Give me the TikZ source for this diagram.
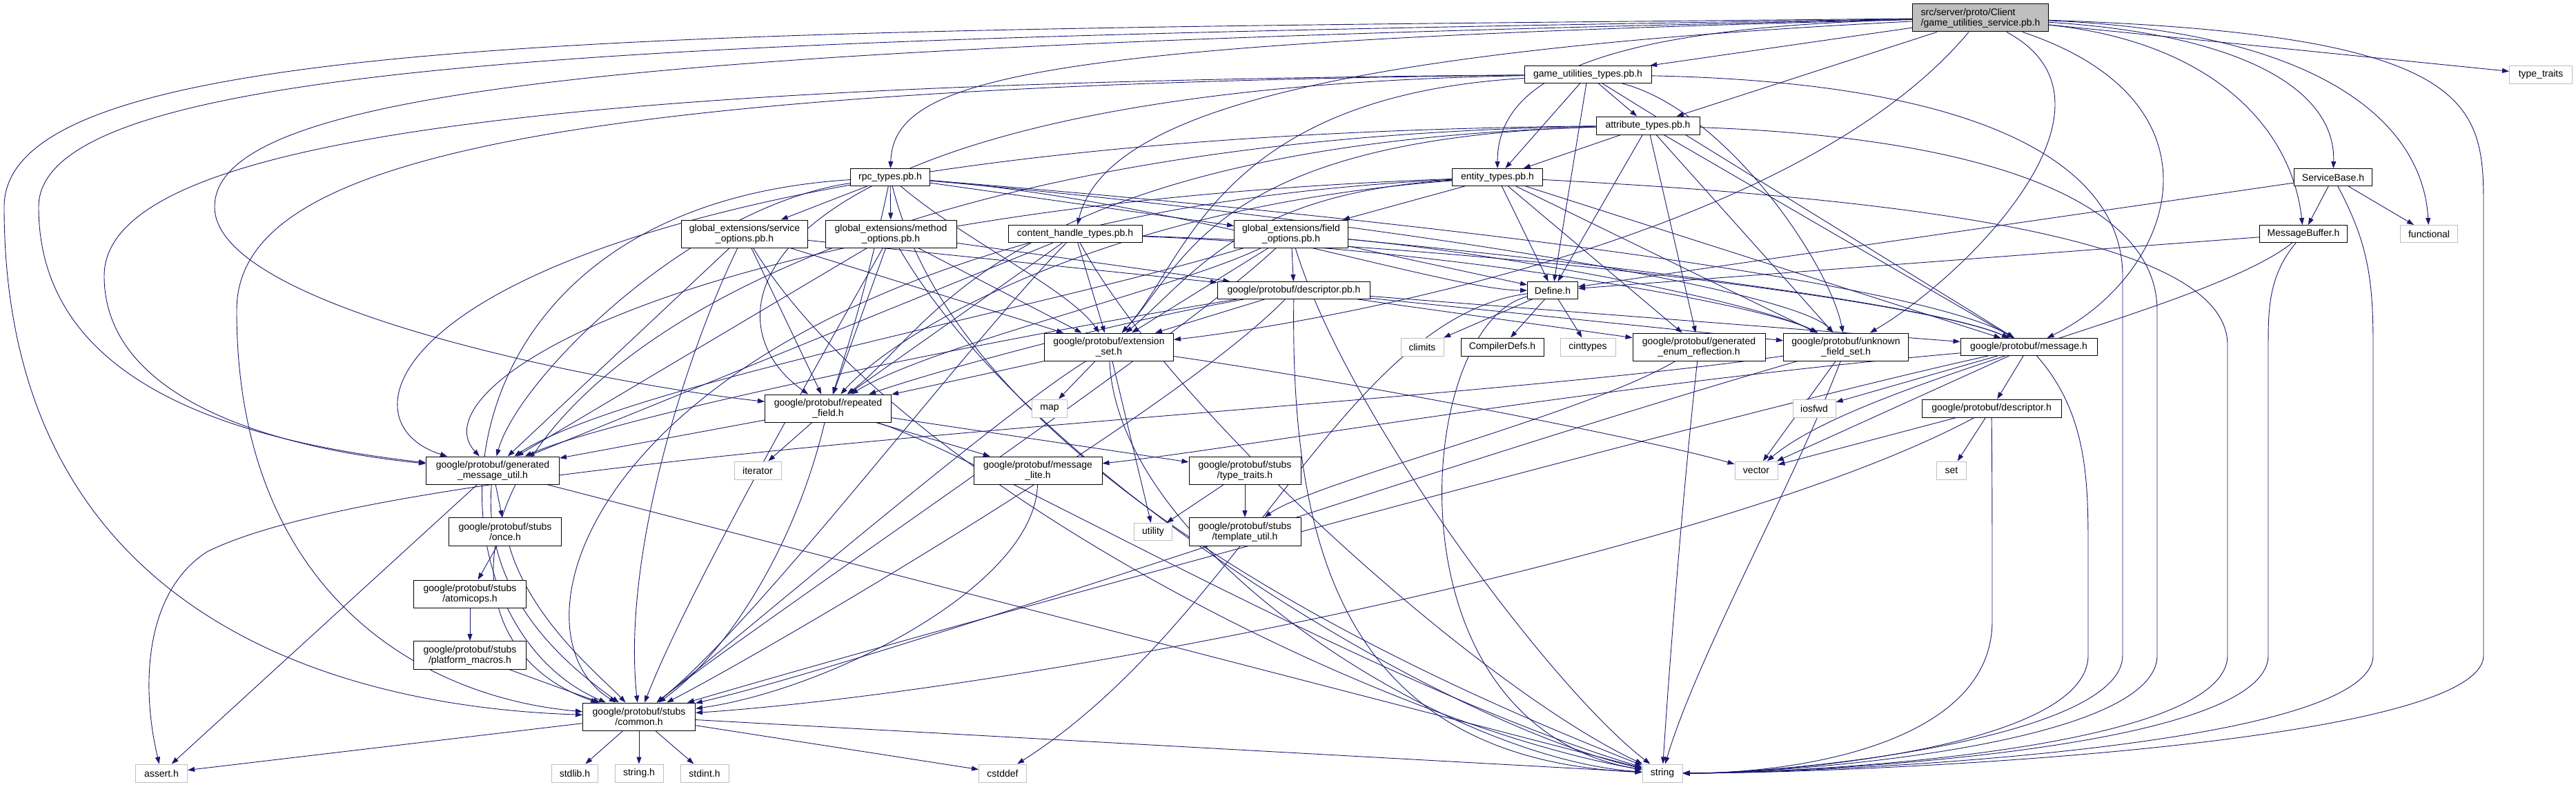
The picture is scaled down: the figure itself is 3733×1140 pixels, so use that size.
\documentclass[tikz,border=0pt]{standalone}
\usepackage{fontspec}
\setmainfont{Liberation Sans}
\usetikzlibrary{arrows.meta,backgrounds}
\definecolor{edgec}{HTML}{191970}
\definecolor{extc}{HTML}{BFBFBF}
\newcommand\mkn[7]{\node[#6, minimum width=#4pt, minimum height=#5pt] (#1) at (#2,#3) {#7};}
\newcommand\edS[2]{\draw[e] (#1) -- (#2);}
\newcommand\edC[4]{\draw[e] (#1) .. controls (#2) and (#3) .. (#4);}
\begin{document}
\begin{tikzpicture}[x=1pt,y=-1pt,
 e/.style={draw=edgec, line width=0.9pt, -{Triangle[length=10pt,width=7pt]}},
 nd/.style={draw=black, fill=white, line width=1pt, inner sep=0pt, align=center, font=\fontsize{14}{15}\selectfont},
 ext/.style={nd, draw=extc},
 rt/.style={nd, fill=extc, align=left}]
\useasboundingbox (0,0) rectangle (3733,1140);
% nodes
\mkn{R}{2870}{26}{197}{40}{rt}{src/server/proto/Client\\/game\_utilities\_service.pb.h}
\mkn{tt}{3682}{108}{91}{26}{ext}{type\_traits}
\mkn{gut}{2301}{108}{184}{25}{nd}{game\_utilities\_types.pb.h}
\mkn{atyp}{2388}{182}{150}{26}{nd}{attribute\_types.pb.h}
\mkn{rpc}{1290}{257}{115}{25}{nd}{rpc\_types.pb.h}
\mkn{et}{2170}{257}{131}{25}{nd}{entity\_types.pb.h}
\mkn{sb}{3381}{257}{113}{25}{nd}{ServiceBase.h}
\mkn{so}{1079}{339}{183}{40}{nd}{global\_extensions/service\\\_options.pb.h}
\mkn{mo}{1291}{339}{190}{40}{nd}{global\_extensions/method\\\_options.pb.h}
\mkn{cht}{1558}{339}{194}{25}{nd}{content\_handle\_types.pb.h}
\mkn{fo}{1871}{339}{165}{40}{nd}{global\_extensions/field\\\_options.pb.h}
\mkn{mb}{3338}{339}{127}{25}{nd}{MessageBuffer.h}
\mkn{fn}{3520}{339}{83}{25}{ext}{functional}
\mkn{dpb}{1875}{421}{221}{25}{nd}{google/protobuf/descriptor.pb.h}
\mkn{def}{2250}{421}{73}{25}{nd}{Define.h}
\mkn{es}{1607}{503}{187}{40}{nd}{google/protobuf/extension\\\_set.h}
\mkn{cl}{2061}{503}{62}{26}{ext}{climits}
\mkn{cd}{2177}{503}{120}{26}{nd}{CompilerDefs.h}
\mkn{ci}{2301}{503}{80}{26}{ext}{cinttypes}
\mkn{ger}{2462}{503}{192}{40}{nd}{google/protobuf/generated\\\_enum\_reflection.h}
\mkn{ufs}{2675}{503}{181}{40}{nd}{google/protobuf/unknown\\\_field\_set.h}
\mkn{msg}{2940}{503}{198}{25}{nd}{google/protobuf/message.h}
\mkn{rf}{1200}{592}{183}{40}{nd}{google/protobuf/repeated\\\_field.h}
\mkn{mapn}{1521}{592}{51}{26}{ext}{map}
\mkn{io}{2629}{592}{62}{26}{ext}{iosfwd}
\mkn{dh}{2886}{592}{202}{26}{nd}{google/protobuf/descriptor.h}
\mkn{gmu}{714}{682}{193}{40}{nd}{google/protobuf/generated\\\_message\_util.h}
\mkn{iter}{1098}{682}{68}{26}{ext}{iterator}
\mkn{ml}{1504}{682}{186}{40}{nd}{google/protobuf/message\\\_lite.h}
\mkn{stt}{1804}{682}{162}{40}{nd}{google/protobuf/stubs\\/type\_traits.h}
\mkn{vec}{2545}{682}{62}{26}{ext}{vector}
\mkn{setn}{2828}{682}{43}{26}{ext}{set}
\mkn{once}{732}{771}{163}{41}{nd}{google/protobuf/stubs\\/once.h}
\mkn{util}{1671}{771}{55}{25}{ext}{utility}
\mkn{tu}{1804}{771}{162}{41}{nd}{google/protobuf/stubs\\/template\_util.h}
\mkn{atom}{681}{861}{163}{40}{nd}{google/protobuf/stubs\\/atomicops.h}
\mkn{pm}{681}{950}{163}{41}{nd}{google/protobuf/stubs\\/platform\_macros.h}
\mkn{com}{926}{1039}{163}{40}{nd}{google/protobuf/stubs\\/common.h}
\mkn{ast}{234}{1121}{75}{26}{ext}{assert.h}
\mkn{stdl}{833}{1121}{67}{26}{ext}{stdlib.h}
\mkn{strh}{926}{1121}{70}{26}{ext}{string.h}
\mkn{stdi}{1021}{1121}{70}{26}{ext}{stdint.h}
\mkn{csd}{1453}{1121}{69}{26}{ext}{cstddef}
\mkn{str}{2409}{1121}{58}{26}{ext}{string}
\begin{pgfonlayer}{background}
% root
\edS{R}{gut}
\edS{R}{atyp}
\edC{R}{2300,40}{2170,120}{et}
\edC{R}{1500,60}{1295,110}{rpc}
\edC{R}{1900,75}{1600,170}{cht}
\edS{R}{tt}
\edC{R}{3250,50}{3385,130}{sb}
\edC{R}{3200,60}{3320,180}{mb}
\edC{R}{3350,45}{3510,170}{fn}
\draw[e] (R) .. controls (3590,50) and (3599,150) .. (3599,300) -- (3599,950) .. controls (3599,1080) and (2700,1121) .. (str);
\draw[e] (R) .. controls (1000,45) and (6,40) .. (6,300) .. controls (6,900) and (500,1025) .. (com);
\draw[e] (R) .. controls (1000,55) and (56,80) .. (56,300) .. controls (56,560) and (350,640) .. (gmu);
\draw[e] (R) .. controls (1000,65) and (311,120) .. (311,300) .. controls (311,450) and (900,560) .. (rf);
\edC{R}{2600,350}{1900,470}{es}
\edC{R}{3240,150}{3150,400}{msg}
\edC{R}{3100,150}{2850,400}{ufs}
% game_utilities_types
\edS{gut}{atyp}
\edS{gut}{et}
\edS{gut}{def}
\edS{gut}{msg}
\edC{gut}{2500,160}{2650,380}{ufs}
\draw[e] (gut) .. controls (2900,120) and (3076,250) .. (3076,400) -- (3076,950) .. controls (3076,1070) and (2600,1121) .. (str);
\edC{gut}{1760,140}{1720,380}{es}
\edC{gut}{1100,130}{1000,450}{rf}
\draw[e] (gut) .. controls (800,120) and (151,200) .. (151,400) .. controls (151,580) and (400,650) .. (gmu);
\draw[e] (gut) .. controls (700,125) and (343,250) .. (343,450) .. controls (343,850) and (600,1010) .. (com);
% attribute_types
\edS{atyp}{et}
\edS{atyp}{def}
\edS{atyp}{msg}
\edS{atyp}{ufs}
\edS{atyp}{ger}
\draw[e] (atyp) .. controls (2900,200) and (3126,300) .. (3126,450) -- (3126,950) .. controls (3126,1080) and (2600,1121) .. (str);
\edC{atyp}{1760,200}{1720,380}{es}
\edC{atyp}{1450,210}{1350,480}{rf}
\edC{atyp}{600,200}{450,600}{gmu}
\edC{atyp}{700,210}{520,900}{com}
% entity_types
\edS{et}{fo}
\edS{et}{def}
\edS{et}{msg}
\edS{et}{ufs}
\edS{et}{ger}
\draw[e] (et) .. controls (2800,290) and (3228,350) .. (3228,500) -- (3228,950) .. controls (3228,1090) and (2600,1121) .. (str);
\edC{et}{1800,280}{1730,400}{es}
\edC{et}{1600,300}{1300,480}{rf}
\edC{et}{1000,300}{600,560}{gmu}
\edC{et}{900,320}{700,900}{com}
% rpc_types
\edS{rpc}{so}
\edS{rpc}{mo}
\edS{rpc}{fo}
\edC{rpc}{1700,290}{2100,421}{def}
\edC{rpc}{2200,330}{2800,420}{msg}
\edC{rpc}{2000,320}{2600,420}{ufs}
\edC{rpc}{1400,350}{1550,420}{es}
\edC{rpc}{1260,400}{1230,500}{rf}
\edC{rpc}{1000,300}{750,550}{gmu}
\edC{rpc}{600,300}{600,900}{com}
\edC{rpc}{1400,700}{2100,1000}{str}
% service options
\edS{so}{dpb}
\edS{so}{es}
\edS{so}{rf}
\edS{so}{gmu}
\edC{so}{1000,500}{900,800}{com}
\edC{so}{1300,700}{2000,1050}{str}
% method options
\edS{mo}{dpb}
\edS{mo}{es}
\edS{mo}{rf}
\edS{mo}{gmu}
\edC{mo}{1200,500}{1000,850}{com}
\edC{mo}{1500,700}{2100,1050}{str}
% field options
\edS{fo}{dpb}
\edS{fo}{def}
\edS{fo}{es}
\edC{fo}{1700,420}{1350,500}{rf}
\edC{fo}{1500,450}{900,560}{gmu}
\edC{fo}{1700,500}{1100,900}{com}
\edC{fo}{1950,600}{2250,1000}{str}
\edC{fo}{2300,380}{2800,440}{msg}
\edC{fo}{2200,370}{2550,440}{ufs}
% content_handle_types
\edC{cht}{2200,360}{2800,440}{msg}
\edC{cht}{2100,360}{2550,440}{ufs}
\edS{cht}{es}
\edS{cht}{rf}
\edS{cht}{gmu}
\edC{cht}{1400,500}{1100,900}{com}
\edC{cht}{1700,600}{2150,1000}{str}
% descriptor.pb.h
\edS{dpb}{es}
\edC{dpb}{1600,470}{1350,540}{rf}
\edC{dpb}{1500,480}{900,600}{gmu}
\edC{dpb}{1700,600}{1100,950}{com}
\edC{dpb}{1870,800}{1950,1100}{str}
\edS{dpb}{msg}
\edS{dpb}{ufs}
\edS{dpb}{ger}
% Define.h
\edS{def}{cl}
\edS{def}{cd}
\edS{def}{ci}
\edC{def}{1950,460}{1800,900}{csd}
\edC{def}{2050,470}{2000,1050}{str}
% extension_set
\edS{es}{rf}
\edS{es}{mapn}
\edS{es}{util}
\edC{es}{1450,600}{1100,900}{com}
\edC{es}{1620,800}{2100,1100}{str}
\edC{es}{2000,560}{2400,640}{vec}
% repeated_field
\edS{rf}{iter}
\edS{rf}{gmu}
\edS{rf}{ml}
\edS{rf}{stt}
\edC{rf}{1150,800}{1050,950}{com}
\edC{rf}{1400,650}{2000,1000}{str}
% others
\edC{ml}{1500,850}{1200,1000}{com}
\edS{stt}{util}
\edS{stt}{tu}
\edC{ger}{2440,700}{2420,950}{str}
\edC{ger}{2300,600}{1900,700}{tu}
\draw[e] (ufs) .. controls (2000,600) and (600,650) .. (300,800) .. controls (207,860) and (205,1000) .. (ast);
\edS{ufs}{vec}
\edC{ufs}{2600,700}{2460,950}{str}
\edC{ufs}{2000,700}{1300,950}{com}
\edS{msg}{io}
\edS{msg}{dh}
\edS{msg}{vec}
\edC{msg}{2300,560}{1800,650}{ml}
\draw[e] (msg) .. controls (3026,600) and (3026,700) .. (3026,800) -- (3026,950) .. controls (3026,1080) and (2600,1121) .. (str);
\edC{msg}{2500,600}{1400,900}{com}
\edS{dh}{setn}
\edS{dh}{vec}
\draw[e] (dh) .. controls (2887,700) and (2887,800) .. (2887,900) .. controls (2887,1080) and (2600,1121) .. (str);
\edC{dh}{2500,800}{1500,1000}{com}
\edS{gmu}{ast}
\edS{gmu}{str}
\edC{gmu}{700,850}{800,950}{com}
\edS{gmu}{once}
\edS{once}{atom}
\edC{once}{770,900}{870,980}{com}
\edS{atom}{pm}
\edS{pm}{com}
\edS{com}{ast}
\edS{com}{stdl}
\edS{com}{strh}
\edS{com}{stdi}
\edS{com}{csd}
\edS{com}{str}
\edS{sb}{def}
\edS{sb}{mb}
\edS{sb}{fn}
\draw[e] (sb) .. controls (3430,350) and (3439,400) .. (3439,500) -- (3439,950) .. controls (3439,1090) and (2600,1121) .. (str);
\edS{mb}{def}
\edC{mb}{3200,450}{2700,550}{vec}
\draw[e] (mb) .. controls (3287,400) and (3287,450) .. (3287,500) -- (3287,950) .. controls (3287,1090) and (2600,1121) .. (str);
\end{pgfonlayer}
\end{tikzpicture}
\end{document}
